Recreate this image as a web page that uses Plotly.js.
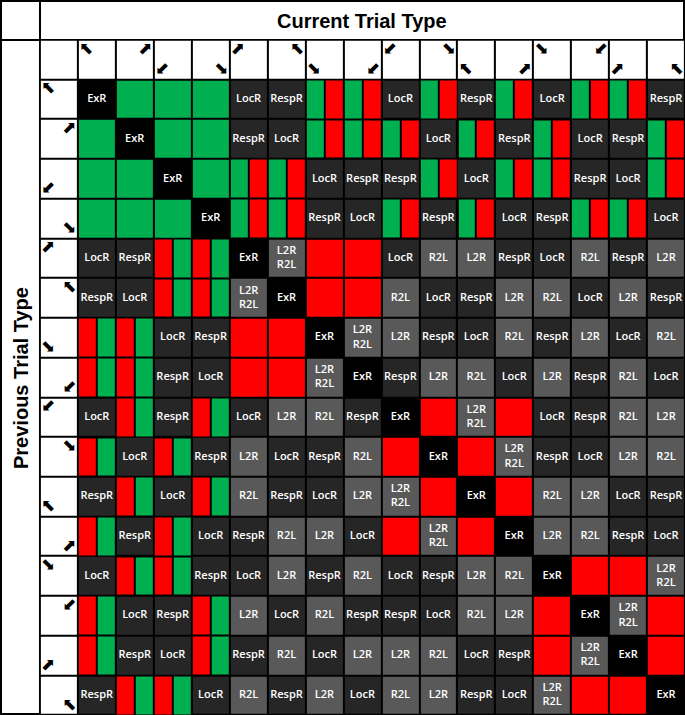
<!DOCTYPE html>
<html>
<head>
<meta charset="utf-8">
<script src="https://cdn.plot.ly/plotly-3.0.1.min.js"></script>
<style>
  html, body { margin: 0; padding: 0; background: #fff; }
  #chart { width: 685px; height: 715px; }
</style>
</head>
<body>
<div id="chart"></div>
<script>
// arrow in each header cell, same order for rows (previous) and columns (current)
const arrowGlyphs = ['⬉', '⬈', '⬋', '⬊', '⬈', '⬉', '⬊', '⬋', '⬋', '⬊', '⬉', '⬈', '⬊', '⬋', '⬈', '⬉'];
// which corner of the header cell the arrow sits in
const arrowCorners = ['tl', 'tr', 'bl', 'br', 'tl', 'tr', 'bl', 'br', 'tl', 'tr', 'bl', 'br', 'tl', 'tr', 'bl', 'br'];

// G = green, R = red, GR = green|red split, RG = red|green split
const cellRows = [
    ['ExR', 'G', 'G', 'G', 'LocR', 'RespR', 'GR', 'GR', 'LocR', 'GR', 'RespR', 'GR', 'LocR', 'GR', 'GR', 'RespR'],
    ['G', 'ExR', 'G', 'G', 'RespR', 'LocR', 'GR', 'GR', 'GR', 'LocR', 'GR', 'RespR', 'GR', 'LocR', 'RespR', 'GR'],
    ['G', 'G', 'ExR', 'G', 'GR', 'GR', 'LocR', 'RespR', 'RespR', 'GR', 'LocR', 'GR', 'GR', 'RespR', 'LocR', 'GR'],
    ['G', 'G', 'G', 'ExR', 'GR', 'GR', 'RespR', 'LocR', 'GR', 'RespR', 'GR', 'LocR', 'RespR', 'GR', 'GR', 'LocR'],
    ['LocR', 'RespR', 'RG', 'RG', 'ExR', 'L2R R2L', 'R', 'R', 'LocR', 'R2L', 'L2R', 'RespR', 'LocR', 'R2L', 'RespR', 'L2R'],
    ['RespR', 'LocR', 'RG', 'RG', 'L2R R2L', 'ExR', 'R', 'R', 'R2L', 'LocR', 'RespR', 'L2R', 'R2L', 'LocR', 'L2R', 'RespR'],
    ['RG', 'RG', 'LocR', 'RespR', 'R', 'R', 'ExR', 'L2R R2L', 'L2R', 'RespR', 'LocR', 'R2L', 'RespR', 'L2R', 'LocR', 'R2L'],
    ['RG', 'RG', 'RespR', 'LocR', 'R', 'R', 'L2R R2L', 'ExR', 'RespR', 'L2R', 'R2L', 'LocR', 'L2R', 'RespR', 'R2L', 'LocR'],
    ['LocR', 'RG', 'RespR', 'RG', 'LocR', 'L2R', 'R2L', 'RespR', 'ExR', 'R', 'L2R R2L', 'R', 'LocR', 'RespR', 'R2L', 'L2R'],
    ['RG', 'LocR', 'RG', 'RespR', 'L2R', 'LocR', 'RespR', 'R2L', 'R', 'ExR', 'R', 'L2R R2L', 'RespR', 'LocR', 'L2R', 'R2L'],
    ['RespR', 'RG', 'LocR', 'RG', 'R2L', 'RespR', 'LocR', 'L2R', 'L2R R2L', 'R', 'ExR', 'R', 'R2L', 'L2R', 'LocR', 'RespR'],
    ['RG', 'RespR', 'RG', 'LocR', 'RespR', 'R2L', 'L2R', 'LocR', 'R', 'L2R R2L', 'R', 'ExR', 'L2R', 'R2L', 'RespR', 'LocR'],
    ['LocR', 'RG', 'RG', 'RespR', 'LocR', 'L2R', 'RespR', 'R2L', 'LocR', 'RespR', 'L2R', 'R2L', 'ExR', 'R', 'R', 'L2R R2L'],
    ['RG', 'LocR', 'RespR', 'RG', 'L2R', 'LocR', 'R2L', 'RespR', 'RespR', 'LocR', 'R2L', 'L2R', 'R', 'ExR', 'L2R R2L', 'R'],
    ['RG', 'RespR', 'LocR', 'RG', 'RespR', 'R2L', 'LocR', 'L2R', 'L2R', 'R2L', 'LocR', 'RespR', 'R', 'L2R R2L', 'ExR', 'R'],
    ['RespR', 'RG', 'RG', 'LocR', 'R2L', 'RespR', 'L2R', 'LocR', 'R2L', 'L2R', 'RespR', 'LocR', 'L2R R2L', 'R', 'R', 'ExR']
];

// colour slots: 0 header white, 1 black, 2 green, 3 red, 4 dark grey, 5 mid grey
const slot = { hdr: 0, ExR: 1, G: 2, R: 3, LocR: 4, RespR: 4, L2R: 5, R2L: 5, 'L2R R2L': 5 };
const palette = ['#ffffff', '#000000', '#00b050', '#ff0000', '#262626', '#595959'];
const colorscale = palette.map((c, i) => [i / (palette.length - 1), c]);

const n = cellRows.length;
const idx = [...Array(n).keys()];

// full cells, including the header row / column at -1
const fullX = [-1].concat(idx);
const fullY = [-1].concat(idx);
const fullZ = fullY.map(r => fullX.map(c => {
    if (r < 0 || c < 0) return slot.hdr;
    const v = cellRows[r][c];
    return (v === 'GR' || v === 'RG') ? null : slot[v];
}));

// split cells drawn at half-cell resolution
const halfX = [];
idx.forEach(c => { halfX.push(c - 0.25, c + 0.25); });
const halfZ = cellRows.map(row => {
    const out = [];
    row.forEach(v => {
        if (v === 'GR') out.push(slot.G, slot.R);
        else if (v === 'RG') out.push(slot.R, slot.G);
        else out.push(null, null);
    });
    return out;
});

// labels
const lx = [], ly = [], lt = [];
cellRows.forEach((row, r) => row.forEach((v, c) => {
    if (['G', 'R', 'GR', 'RG'].includes(v)) return;
    lx.push(c);
    ly.push(r);
    lt.push(v === 'L2R R2L' ? 'L2R<br>R2L' : v);
}));

// header arrows
const offX = 0.28, offY = 0.26;
function cornerShift(k) {
    const cn = arrowCorners[k];
    return [cn[1] === 'l' ? -offX : offX, cn[0] === 't' ? -offY : offY];
}
const axs = [], ays = [], ats = [];
idx.forEach(k => {
    const [dx, dy] = cornerShift(k);
    axs.push(k + dx); ays.push(-1 + dy); ats.push(arrowGlyphs[k]);   // column header
    axs.push(-1 + dx); ays.push(k + dy); ats.push(arrowGlyphs[k]);   // row header
});

const heatBase = {
    type: 'heatmap',
    colorscale: colorscale,
    zmin: 0,
    zmax: palette.length - 1,
    showscale: false,
    xgap: 2,
    ygap: 2,
    hoverinfo: 'skip'
};

const traces = [
    Object.assign({}, heatBase, { x: fullX, y: fullY, z: fullZ }),
    Object.assign({}, heatBase, { x: halfX, y: idx, z: halfZ }),
    {
        type: 'scatter',
        mode: 'text',
        x: lx,
        y: ly,
        text: lt,
        textposition: 'middle center',
        textfont: { family: 'Open Sans, sans-serif', size: 11, color: '#ffffff', weight: 600 },
        hoverinfo: 'skip'
    },
    {
        type: 'scatter',
        mode: 'text',
        x: axs,
        y: ays,
        text: ats,
        textposition: 'middle center',
        textfont: { family: 'DejaVu Sans, sans-serif', size: 17, color: '#000000' },
        hoverinfo: 'skip'
    }
];

// white title boxes, in pixels, leaving black borders
const W = 685, H = 715;
function box(x0, y0, x1, y1) {
    return {
        type: 'rect', xref: 'paper', yref: 'paper', layer: 'below',
        x0: x0 / W, x1: x1 / W, y0: 1 - y1 / H, y1: 1 - y0 / H,
        fillcolor: '#ffffff', line: { width: 0 }
    };
}

const layout = {
    width: W,
    height: H,
    margin: { l: 0, r: 0, t: 0, b: 0 },
    paper_bgcolor: '#000000',
    plot_bgcolor: '#000000',
    showlegend: false,
    xaxis: { range: [-2.55, n - 0.5], visible: false, fixedrange: true },
    yaxis: { range: [n - 0.5, -2.5], visible: false, fixedrange: true },
    shapes: [
        box(2, 2, 39, 39),
        box(41, 2, 683, 39),
        box(2, 41, 39, 713)
    ],
    annotations: [
        {
            text: '<b>Current Trial Type</b>',
            xref: 'paper', yref: 'paper',
            x: 362 / W, y: 1 - 21 / H,
            xanchor: 'center', yanchor: 'middle',
            showarrow: false,
            font: { family: 'Liberation Sans, Arial, sans-serif', size: 20, color: '#000000' }
        },
        {
            text: '<b>Previous Trial Type</b>',
            xref: 'paper', yref: 'paper',
            x: 21 / W, y: 1 - 378 / H,
            xanchor: 'center', yanchor: 'middle',
            textangle: -90,
            showarrow: false,
            font: { family: 'Liberation Sans, Arial, sans-serif', size: 20, color: '#000000' }
        }
    ]
};

Plotly.newPlot('chart', traces, layout, { displayModeBar: false, staticPlot: true });
</script>
</body>
</html>
